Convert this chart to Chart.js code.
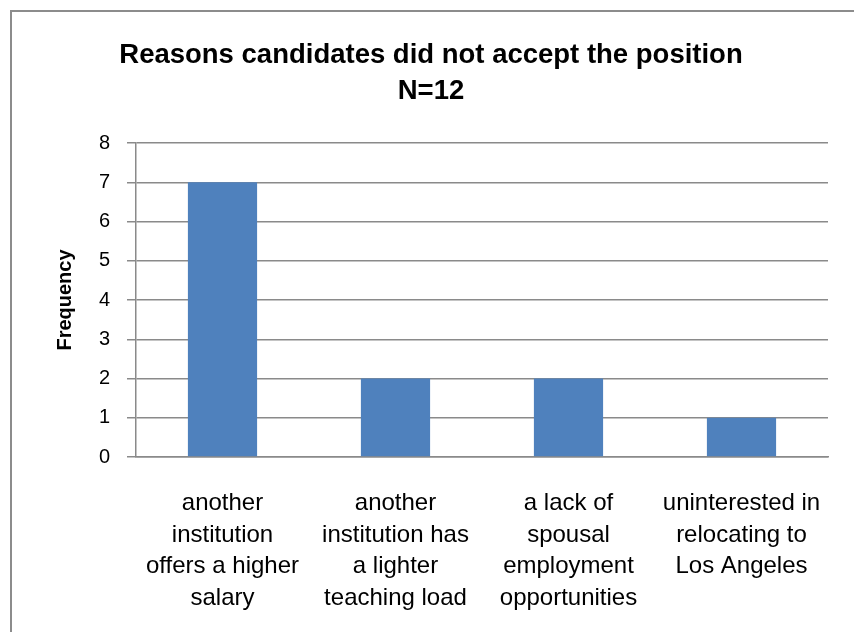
<!DOCTYPE html>
<html>
<head>
<meta charset="utf-8">
<script src="https://cdn.jsdelivr.net/npm/chart.js@4"></script>
<style>
    body { margin: 0; background: #fff; overflow: hidden; }
    #frame {
        position: absolute; left: 10px; top: 10px;
        width: 900px; height: 700px;
        border-top: 2px solid #8c8c8c;
        border-left: 2px solid #8c8c8c;
    }
    #chart { position: absolute; left: 0; top: 0; }
</style>
</head>
<body>
<div id="frame"></div>
<canvas id="chart" width="854" height="632"></canvas>
<script>
// Reasons offers were declined
const categories = [
    ['another', 'institution', 'offers a higher', 'salary'],
    ['another', 'institution has', 'a lighter', 'teaching load'],
    ['a lack of', 'spousal', 'employment', 'opportunities'],
    ['uninterested in', 'relocating to', 'Los Angeles']
];
const frequencies = [7, 2, 2, 1];
const yMin = 0;
const yMax = 8;
const yStep = 1;

const titleLines = ['Reasons candidates did not accept the position', 'N=12'];
const yTitle = 'Frequency';

const FONT = "'Liberation Sans', Arial, sans-serif";
const GRID = '#8a8a8a';

// Title is centred on the framed area rather than the canvas, so draw it by hand
const frameTitle = {
    id: 'frameTitle',
    afterDraw: function(chart) {
        const c = chart.ctx;
        c.save();
        c.fillStyle = '#000';
        c.font = 'bold 27.5px ' + FONT;
        c.textAlign = 'center';
        c.textBaseline = 'middle';
        titleLines.forEach(function(line, i) {
            c.fillText(line, 431, 55 + i * 36);
        });
        c.restore();
    }
};

const ctx = document.getElementById('chart').getContext('2d');
new Chart(ctx, {
    type: 'bar',
    data: {
        labels: categories,
        datasets: [{
            data: frequencies,
            backgroundColor: '#4f81bd',
            borderWidth: 0,
            categoryPercentage: 1,
            barPercentage: 0.4
        }]
    },
    options: {
        responsive: false,
        animation: false,
        layout: { padding: { left: 0, right: 26, top: 143, bottom: 0 } },
        plugins: {
            legend: { display: false },
            tooltip: { enabled: false },
            title: { display: false }
        },
        scales: {
            x: {
                grid: { display: false },
                border: { display: true, color: GRID, width: 1.5 },
                ticks: {
                    color: '#000',
                    font: { family: FONT, size: 24, lineHeight: 1.31 },
                    padding: 23,
                    maxRotation: 0,
                    autoSkip: false
                },
                afterFit: function(scale) { scale.height = 175; }
            },
            y: {
                min: yMin,
                max: yMax,
                grid: { color: GRID, lineWidth: 1.5, drawTicks: true, tickLength: 9 },
                border: { display: true, color: GRID, width: 1.5 },
                ticks: {
                    stepSize: yStep,
                    color: '#000',
                    font: { family: FONT, size: 20 },
                    padding: 17
                },
                title: {
                    display: true,
                    text: yTitle,
                    color: '#000',
                    font: { family: FONT, size: 20, weight: 'bold', lineHeight: 1.2 },
                    padding: { top: 53, bottom: 0 }
                },
                afterFit: function(scale) { scale.width = 136; }
            }
        }
    },
    plugins: [frameTitle]
});
</script>
</body>
</html>
